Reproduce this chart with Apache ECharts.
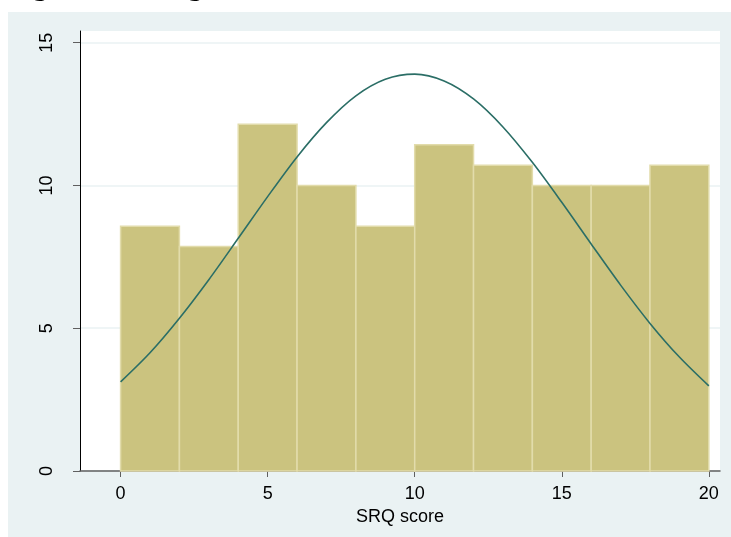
<!DOCTYPE html>
<html>
<head>
<meta charset="utf-8">
<script src="https://cdn.jsdelivr.net/npm/echarts@6/dist/echarts.min.js"></script>
<style>
  html, body { margin: 0; padding: 0; background: #fff; }
  #chart { width: 731px; height: 537px; }
</style>
</head>
<body>
<div id="chart"></div>
<script>
// histogram bins (SRQ score), percent of 140 cases
var binStart = [0, 2, 4, 6, 8, 10, 12, 14, 16, 18];
var binEnd = [2, 4, 6, 8, 10, 12, 14, 16, 18, 20];
var percent = [8.57, 7.86, 12.14, 10.0, 8.57, 11.43, 10.71, 10.0, 10.0, 10.71];

// normal curve
var curveX = [0, 1, 2, 3, 4, 5, 6, 7, 8, 9, 10, 11, 12, 13, 14, 15, 16, 17, 18, 19, 20];
var curveY = [3.12, 4.14, 5.35, 6.7, 8.15, 9.61, 11.0, 12.2, 13.14, 13.72, 13.9,
  13.66, 13.03, 12.05, 10.81, 9.41, 7.95, 6.51, 5.17, 3.99, 2.98];

var xTicks = [0, 5, 10, 15, 20];
var yTicks = [0, 5, 10, 15];

var titleText = 'Figure 1: Histogram of SRQ score';
var xTitle = 'SRQ score';

var bars = binStart.map(function (s, i) {
  return [s, binEnd[i], percent[i]];
});
var curve = curveX.map(function (x, i) {
  return [x, curveY[i]];
});

var chart = echarts.init(document.getElementById('chart'));

var option = {
  backgroundColor: '#ffffff',
  animation: false,
  graphic: {
    elements: [
      {
        type: 'rect',
        z: -10,
        shape: { x: 8, y: 12, width: 731, height: 537 },
        style: { fill: '#eaf2f3' }
      },
      {
        type: 'text',
        x: 8,
        y: -12,
        style: {
          text: titleText,
          font: 'bold 28px "Liberation Serif"',
          fill: '#000',
          verticalAlign: 'middle'
        }
      }
    ]
  },
  grid: {
    left: 80,
    right: 11,
    top: 31,
    bottom: 66,
    show: true,
    backgroundColor: '#ffffff',
    borderWidth: 0
  },
  xAxis: {
    type: 'value',
    min: -1.38,
    max: 20.38,
    name: xTitle,
    nameLocation: 'middle',
    nameGap: 30,
    nameTextStyle: { color: '#000', fontSize: 18, fontFamily: 'Liberation Sans' },
    axisLine: { show: true, onZero: false, lineStyle: { color: '#5f5f5f', width: 1.5 } },
    axisTick: { show: true, length: 6, customValues: xTicks, lineStyle: { color: '#5f5f5f' } },
    axisLabel: {
      customValues: xTicks,
      color: '#000',
      fontSize: 18,
      fontFamily: 'Liberation Sans',
      margin: 14
    },
    splitLine: { show: false }
  },
  yAxis: {
    type: 'value',
    min: 0,
    max: 15.41,
    axisLine: { show: true, onZero: false, lineStyle: { color: '#000', width: 1 } },
    axisTick: { show: true, length: 7, customValues: yTicks, lineStyle: { color: '#5f5f5f' } },
    axisLabel: {
      customValues: yTicks,
      rotate: 90,
      color: '#000',
      fontSize: 18,
      fontFamily: 'Liberation Sans',
      margin: 24
    },
    splitLine: {
      show: true,
      customValues: yTicks,
      lineStyle: { color: '#eaf2f3', width: 1.5 }
    }
  },
  series: [
    {
      type: 'custom',
      data: bars,
      z: 2,
      renderItem: function (params, api) {
        var p0 = api.coord([api.value(0), api.value(2)]);
        var p1 = api.coord([api.value(1), 0]);
        return {
          type: 'rect',
          shape: { x: p0[0], y: p0[1], width: p1[0] - p0[0], height: p1[1] - p0[1] },
          style: { fill: '#cbc37f', stroke: '#e2dcab', lineWidth: 1.5 }
        };
      }
    },
    {
      type: 'line',
      data: curve,
      z: 3,
      smooth: 0.3,
      symbol: 'none',
      lineStyle: { color: '#2b6e66', width: 1.6 }
    }
  ]
};

chart.setOption(option);
</script>
</body>
</html>
